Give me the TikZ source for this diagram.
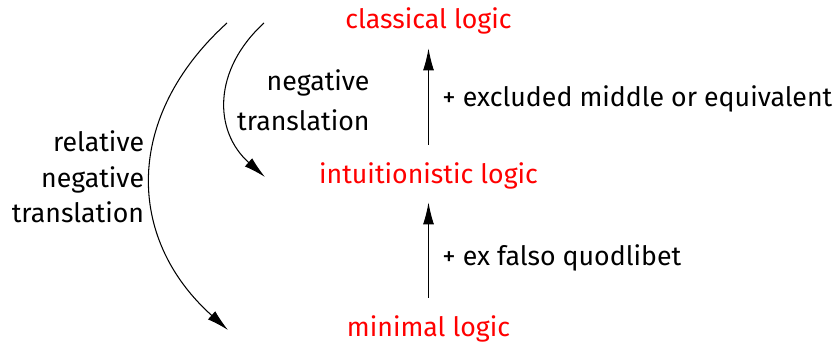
\documentclass[tikz,border=0pt]{standalone}
\usepackage{fontspec}
\setmainfont{Fira Sans}
\usepackage{tikz}
\usetikzlibrary{arrows.meta,positioning}
\usepackage{xcolor}
\definecolor{LogicRed}{HTML}{FF0000}
\definecolor{LogicBlack}{HTML}{000000}
\tikzset{
    % Red logic names, placed on their baseline
    logic/.style={
        text=LogicRed,
        anchor=base,
        font=\fontsize{15.2}{20}\selectfont
    },
    % Black side texts
    label text/.style={
        text=LogicBlack,
        font=\fontsize{15.2}{20}\selectfont
    },
    arrow/.style={
        -{Latex[length=4.4mm,width=2.2mm]},
        line width=0.6pt,
        color=LogicBlack
    },
    arrow up/.style={
        arrow,
        shorten <=2.2mm,
        shorten >=1.5mm
    },
    translation/.style={
        arrow,
        bend right=48,
        looseness=1.15
    }
}
\begin{document}
\begin{tikzpicture}[x=0.02cm, y=0.02cm]
        \useasboundingbox (0,0) rectangle (837,342);

        % Logics
        \node[logic] (classical) at (428.5,313) {classical logic};
        \node[logic] (intuit) at (428.5,159) {intuitionistic logic};
        \node[logic] (minimal) at (428.5,6) {minimal logic};

        % Ends of the translations
        \coordinate (neg_start) at (264,319);
        \coordinate (neg_end) at (265,165);
        \coordinate (rel_start) at (227,319);
        \coordinate (rel_end) at (228,12);

        % Arrows
        \draw[arrow up] (intuit) -- node[label text, right=1.5mm] (excluded)
              {+ excluded middle or equivalent} (classical);
        \draw[arrow up] (minimal) -- node[label text, right=1.5mm, pos=0.45] (efq)
              {+ ex falso quodlibet} (intuit);
        \draw[translation] (neg_start) to node[label text, right=1mm, align=right] (neg_label)
              {negative\\[2.5pt]translation} (neg_end);
        \draw[translation] (rel_start) to node[label text, left, align=right] (rel_label)
              {relative\\negative\\translation} (rel_end);
    \end{tikzpicture}
\end{document}
